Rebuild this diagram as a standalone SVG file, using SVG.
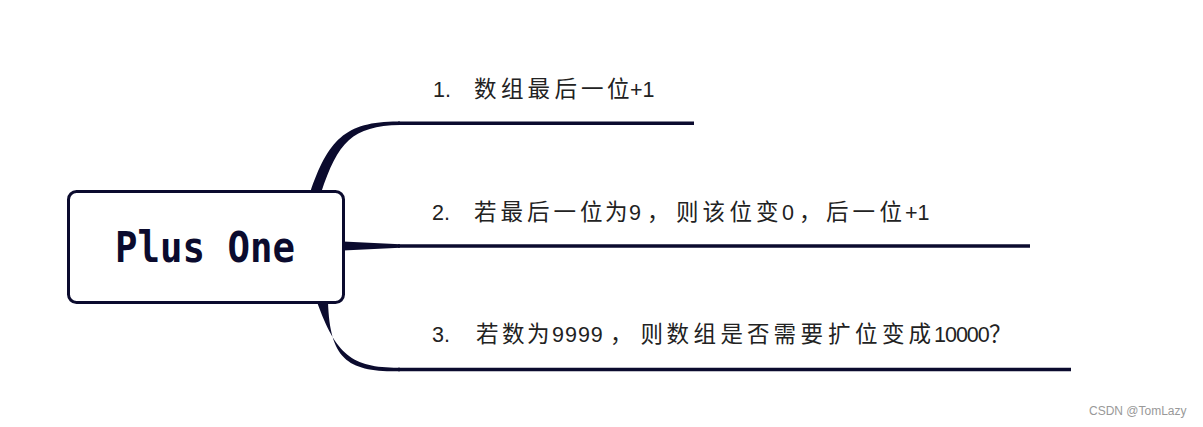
<svg xmlns="http://www.w3.org/2000/svg" width="1203" height="427" viewBox="0 0 1203 427">
<style>
.ink{fill:#0b0b2e;}
.ln{stroke:#0b0b2e;stroke-width:3.6;fill:none;}
.lbl{font-family:"Liberation Sans","Noto Sans CJK SC",sans-serif;font-size:21.5px;fill:#222222;}
.c{font-family:"Noto Sans CJK SC",sans-serif;font-size:22.5px;}
.root{font-family:"DejaVu Sans Mono","Liberation Mono",monospace;font-weight:bold;font-size:42px;fill:#0b0b2e;}
.wm{font-family:"Liberation Sans",sans-serif;font-size:12px;fill:#999999;}
</style>
<rect width="1203" height="427" fill="#ffffff"/>
<g id="connectors">
<path class="ink" d="M310 193 C328 140 345 121 400 121.5 L400 125 C352 126 338 142 321 193 Z"/>
<line class="ln" x1="398" y1="123.3" x2="694" y2="123.3"/>
<path class="ink" d="M343 241.5 L400 244.3 L400 247.8 L343 250.5 Z"/>
<line class="ln" x1="398" y1="246" x2="1030" y2="246"/>
<path class="ink" d="M317 302 C336 355 352 368 400 367.7 L400 371.3 C348 372 330 360 328 302 Z"/>
<line class="ln" x1="398" y1="369.5" x2="1071" y2="369.5"/>
</g>
<g id="root">
<rect x="68.5" y="191.5" width="275" height="111" rx="8" ry="8" fill="#ffffff" stroke="#0b0b2e" stroke-width="3"/>
<text class="root" x="115" y="262" textLength="180" lengthAdjust="spacingAndGlyphs">Plus One</text>
</g>
<g id="item1">
<text class="lbl" y="97"><tspan x="433">1.</tspan><tspan class="c" x="474 501 527.5 554.5 581 607">数组最后一位</tspan><tspan x="630">+1</tspan></text>
</g>
<g id="item2">
<text class="lbl" y="220"><tspan x="432">2.</tspan><tspan class="c" x="474 500.5 527 553.5 580 605">若最后一位为</tspan><tspan x="629">9</tspan><tspan class="c" x="647 676 702.5 729.5 756">，则该位变</tspan><tspan x="782">0</tspan><tspan class="c" x="799 826 852.5 879.5">，后一位</tspan><tspan x="905">+1</tspan></text>
</g>
<g id="item3">
<text class="lbl" y="342"><tspan x="432">3.</tspan><tspan class="c" x="476 502 527">若数为</tspan><tspan x="552" letter-spacing="1">9999</tspan><tspan class="c" x="610 640.5 666.5 693.5 720.5 747 773.5 800.5 828 855 882 908.5">，则数组是否需要扩位变成</tspan><tspan x="934" letter-spacing="-1">10000</tspan><tspan class="c" x="989">？</tspan></text>
</g>
<text class="wm" x="1089" y="415">CSDN @TomLazy</text>
</svg>
